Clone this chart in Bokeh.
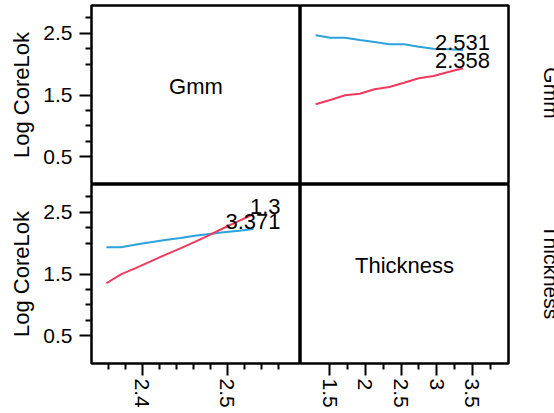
import math
from bokeh.plotting import figure
from bokeh.layouts import gridplot
from bokeh.models import FixedTicker, Range1d, ColumnDataSource, CustomJSTickFormatter
from bokeh.core.properties import value
from bokeh.embed import file_html
from bokeh.resources import INLINE

# ---------------- data ----------------
thickness = [1.300, 1.507, 1.714, 1.921, 2.128, 2.336, 2.543, 2.750, 2.957, 3.164, 3.371]
gmm = [2.358, 2.375, 2.393, 2.410, 2.427, 2.445, 2.462, 2.479, 2.496, 2.514, 2.531]

# Log CoreLok vs Thickness, at Gmm = 2.531 (blue) and Gmm = 2.358 (red)
vs_thk_gmm_hi = [2.468, 2.429, 2.429, 2.391, 2.359, 2.322, 2.322, 2.283, 2.250, 2.241, 2.229]
vs_thk_gmm_lo = [1.349, 1.419, 1.495, 1.521, 1.592, 1.630, 1.699, 1.771, 1.808, 1.873, 1.933]
# Log CoreLok vs Gmm, at Thickness = 1.3 (red) and Thickness = 3.371 (blue)
vs_gmm_thk_lo = [1.350, 1.495, 1.600, 1.705, 1.810, 1.915, 2.020, 2.130, 2.245, 2.360, 2.468]
vs_gmm_thk_hi = [1.933, 1.933, 1.978, 2.014, 2.049, 2.085, 2.120, 2.147, 2.175, 2.202, 2.229]

gmm_level_labels = ["2.531", "2.358"]
thk_level_labels = ["1.3", "3.371"]

y_major = [0.5, 1.5, 2.5]
y_minor = [0.75, 1.0, 1.25, 2.0, 2.25, 2.75]
gmm_major = [2.4, 2.5]
gmm_minor = [2.36, 2.38, 2.42, 2.44, 2.46, 2.48, 2.52, 2.54, 2.56]
thk_major = [1.5, 2.0, 2.5, 3.0, 3.5]
thk_minor = [1.75, 2.25, 2.75, 3.25, 3.75]

y_title = "Log CoreLok"
factor_names = ["Gmm", "Thickness"]

# ---------------- styling ----------------
BLUE = "#2ba2dc"
RED = "#ee3a5e"
FONT = "Liberation Sans"

Y0, Y1 = 0.05, 2.95
GX0, GX1 = 2.3404, 2.5863
TX0, TX1 = 1.0885, 4.0097

def make_fig(xr, yr, w, h, left, right, top, bottom, xaxis, yaxis, outline=True):
    p = figure(width=w, height=h, x_range=xr, y_range=yr,
               output_backend="svg", toolbar_location=None,
               x_axis_location="below" if xaxis else None,
               y_axis_location="left" if yaxis else None,
               min_border_left=left, min_border_right=right,
               min_border_top=top, min_border_bottom=bottom)
    p.grid.visible = False
    if outline:
        p.outline_line_color = "black"
        p.outline_line_width = 2.5
        p.outline_line_alpha = 1.0
    else:
        p.outline_line_color = None
    p.background_fill_color = "white"
    p.border_fill_color = "white"
    return p

def style_axis(ax, major, minor, below=False):
    ax.ticker = FixedTicker(ticks=major, minor_ticks=minor)
    ax.axis_line_color = None
    ax.major_tick_out = 12
    ax.major_tick_in = 0
    ax.minor_tick_out = 6
    ax.minor_tick_in = 0
    ax.major_tick_line_width = 2
    ax.minor_tick_line_width = 2
    ax.major_tick_line_color = "black"
    ax.minor_tick_line_color = "black"
    ax.major_label_text_font = FONT
    ax.major_label_text_font_size = "21px"
    ax.major_label_text_color = "black"
    ax.formatter = CustomJSTickFormatter(code="return tick.toString();")
    if below:
        ax.major_label_orientation = "vertical"
        ax.major_label_standoff = 3
    else:
        ax.major_label_standoff = 7

def style_ylabel(ax):
    ax.axis_label = y_title
    ax.axis_label_text_font = FONT
    ax.axis_label_text_font_size = "22px"
    ax.axis_label_text_font_style = "normal"
    ax.axis_label_text_color = "black"
    ax.axis_label_standoff = 6

gx = Range1d(GX0, GX1)
tx = Range1d(TX0, TX1)
y_top = Range1d(Y0, Y1)
y_bot = Range1d(Y0, Y1)
side_x = Range1d(0, 1)

LW, RW, SW = 300, 210, 44
TH, BH = 184, 229

tl = make_fig(gx, y_top, LW, TH, 91, 0, 5, 0, False, True)
tr = make_fig(tx, y_top, RW, TH, 0, 2, 5, 0, False, False)
sr_top = make_fig(side_x, y_top, SW, TH, 0, 0, 5, 0, False, False, outline=False)
bl = make_fig(gx, y_bot, LW, BH, 91, 0, 0, 50, True, True)
br = make_fig(tx, y_bot, RW, BH, 0, 2, 0, 50, True, False)
sr_bot = make_fig(side_x, y_bot, SW, BH, 0, 0, 0, 50, False, False, outline=False)

for p in (tl, bl):
    style_axis(p.yaxis[0], y_major, y_minor)
    style_ylabel(p.yaxis[0])
style_axis(bl.xaxis[0], gmm_major, gmm_minor, below=True)
style_axis(br.xaxis[0], thk_major, thk_minor, below=True)

TXT = dict(text_font=value(FONT), text_font_size="22px", text_color="black",
           text_baseline="alphabetic")

# diagonal cells: factor names
tl.text(x=[(GX0 + GX1) / 2], y=[(Y0 + Y1) / 2], text=[factor_names[0]],
        text_align="center", y_offset=-9, **TXT)
br.text(x=[(TX0 + TX1) / 2], y=[(Y0 + Y1) / 2], text=[factor_names[1]],
        text_align="center", y_offset=-9, **TXT)

# top-right: response vs Thickness for the two Gmm levels
tr.line(thickness, vs_thk_gmm_hi, line_color=BLUE, line_width=2)
tr.line(thickness, vs_thk_gmm_lo, line_color=RED, line_width=2)
tr_src = ColumnDataSource(dict(x=[thickness[-1], thickness[-1]],
                               y=[vs_thk_gmm_hi[-1], vs_thk_gmm_lo[-1]],
                               t=gmm_level_labels))
tr.text(x="x", y="y", text="t", source=tr_src, x_offset=27, y_offset=-8,
        text_align="right", **TXT)

# bottom-left: response vs Gmm for the two Thickness levels
bl.line(gmm, vs_gmm_thk_hi, line_color=BLUE, line_width=2)
bl.line(gmm, vs_gmm_thk_lo, line_color=RED, line_width=2)
bl_src = ColumnDataSource(dict(x=[gmm[-1], gmm[-1]],
                               y=[vs_gmm_thk_lo[-1], vs_gmm_thk_hi[-1]],
                               t=thk_level_labels))
bl.text(x="x", y="y", text="t", source=bl_src, x_offset=27, y_offset=-8,
        text_align="right", **TXT)

# right-side row labels (rotated, reading top to bottom)
for p, name in ((sr_top, factor_names[0]), (sr_bot, factor_names[1])):
    p.text(x=[0], y=[(Y0 + Y1) / 2], text=[name], x_offset=41, y_offset=-2,
           angle=-math.pi / 2, text_font=value(FONT), text_font_size="21px",
           text_color="black", text_align="center", text_baseline="alphabetic")

grid = gridplot([[tl, tr, sr_top], [bl, br, sr_bot]], toolbar_location=None)
grid.styles = {"position": "absolute", "left": "0px", "top": "0px"}

open("out.html", "w").write(file_html(grid, INLINE))
